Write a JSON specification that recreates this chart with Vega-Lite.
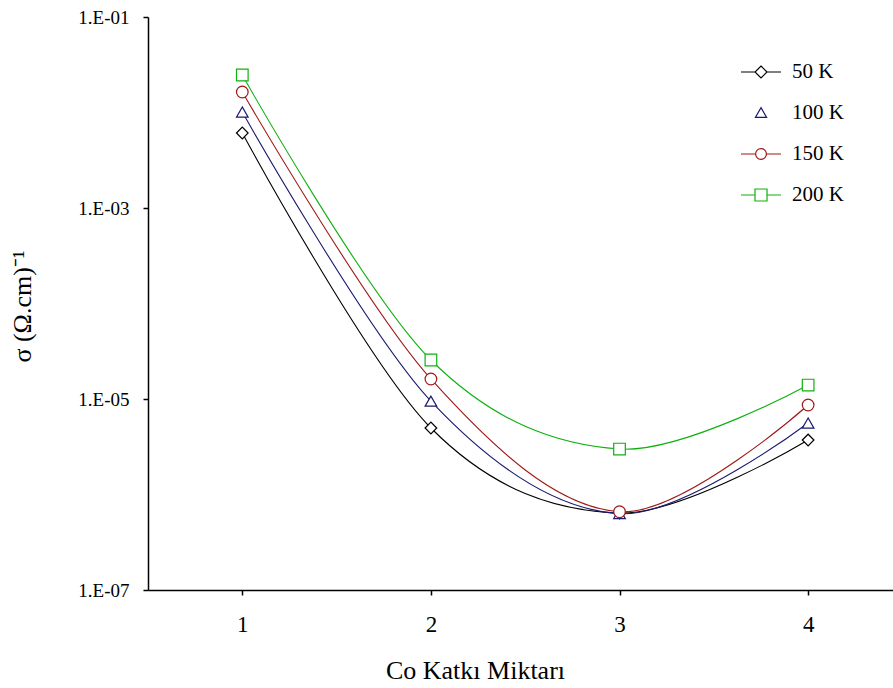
{
  "$schema": "https://vega.github.io/schema/vega-lite/v6.json",
  "autosize": {"type": "none"},
  "padding": {"left": 148, "top": 17, "right": 0, "bottom": 98},
  "width": 745,
  "height": 573,
  "background": "white",
  "config": {"view": {"stroke": null}, "font": "Liberation Serif"},
  "data": {"values": [
    {"x": 1, "s": "50 K", "v": 0.0061},
    {"x": 2, "s": "50 K", "v": 0.00000497},
    {"x": 3, "s": "50 K", "v": 0.00000064},
    {"x": 4, "s": "50 K", "v": 0.00000372},
    {"x": 1, "s": "100 K", "v": 0.0101},
    {"x": 2, "s": "100 K", "v": 0.0000095},
    {"x": 3, "s": "100 K", "v": 0.00000063},
    {"x": 4, "s": "100 K", "v": 0.0000056},
    {"x": 1, "s": "150 K", "v": 0.0164},
    {"x": 2, "s": "150 K", "v": 0.0000162},
    {"x": 3, "s": "150 K", "v": 0.00000066},
    {"x": 4, "s": "150 K", "v": 0.00000865},
    {"x": 1, "s": "200 K", "v": 0.0247},
    {"x": 2, "s": "200 K", "v": 0.0000256},
    {"x": 3, "s": "200 K", "v": 0.00000299},
    {"x": 4, "s": "200 K", "v": 0.000014}
  ]},
  "encoding": {
    "x": {"field": "x", "type": "quantitative",
      "scale": {"domain": [0.5, 4.45], "nice": false, "zero": false},
      "axis": {"values": [1, 2, 3, 4], "grid": false, "domainColor": "black", "domainWidth": 1.5, "tickColor": "black", "tickWidth": 1.5, "tickSize": 5,
        "labelFont": "Liberation Serif", "labelFontSize": 23, "labelColor": "black", "labelPadding": 18,
        "title": "Co Katkı Miktarı", "titleFont": "Liberation Serif", "titleFontSize": 26, "titleFontWeight": "normal", "titleColor": "black",
        "titleX": 327, "titleY": 80, "titleBaseline": "middle", "titleAlign": "center"}},
    "y": {"field": "v", "type": "quantitative",
      "scale": {"type": "log", "domain": [1e-7, 0.1], "nice": false},
      "axis": {"values": [1e-7, 1e-5, 1e-3, 1e-1], "grid": false, "domainColor": "black", "domainWidth": 1.5, "tickColor": "black", "tickWidth": 1.5, "tickSize": 5,
        "labelExpr": "'1.E-0' + round(-log(datum.value)/LN10)",
        "labelFont": "Liberation Serif", "labelFontSize": 19, "labelColor": "black", "labelPadding": 14,
        "title": "σ (Ω.cm)⁻¹", "titleFont": "Liberation Serif", "titleFontSize": 26, "titleFontWeight": "normal", "titleColor": "black",
        "titleX": -126, "titleY": 289, "titleAngle": -90, "titleBaseline": "middle", "titleAlign": "center"}}
  },
  "layer": [
    {
      "mark": {"type": "line", "interpolate": "cardinal", "strokeWidth": 1.1},
      "encoding": {
        "stroke": {"field": "s", "type": "nominal",
          "scale": {"domain": ["50 K", "100 K", "150 K", "200 K"], "range": ["#000000", "#1a1a6e", "#a01818", "#10b010"]},
          "legend": null}
      }
    },
    {
      "mark": {"type": "point", "fill": "white", "strokeWidth": 1.2, "opacity": 1, "size": 135},
      "encoding": {
        "stroke": {"field": "s", "type": "nominal",
          "scale": {"domain": ["50 K", "100 K", "150 K", "200 K"], "range": ["#000000", "#1a1a6e", "#a01818", "#10b010"]},
          "legend": null},
        "shape": {"field": "s", "type": "nominal",
          "scale": {"domain": ["50 K", "100 K", "150 K", "200 K"], "range": ["diamond", "triangle-up", "circle", "square"]},
          "legend": null}
      }
    },
    {
      "mark": {"type": "point", "opacity": 0, "strokeWidth": 1},
      "encoding": {
        "stroke": {"field": "s", "type": "nominal",
          "scale": {"domain": ["50 K", "100 K", "150 K", "200 K"], "range": ["#000000", "#1a1a6e", "#a01818", "#10b010"]}},
        "shape": {"field": "s", "type": "nominal",
          "scale": {"domain": ["50 K", "100 K", "150 K", "200 K"], "range": [
            "M-1,0H-0.3M0.3,0H1M0,-0.3L0.3,0L0,0.3L-0.3,0Z",
            "M0,-0.27L0.28,0.22L-0.28,0.22Z",
            "M-1,0H-0.27M0.27,0H1M0.27,0A0.27,0.27 0 1,1 -0.27,0A0.27,0.27 0 1,1 0.27,0Z",
            "M-1,0H-0.3M0.3,0H1M-0.3,-0.3H0.3V0.3H-0.3Z"]},
          "legend": {"title": null, "orient": "none", "legendX": 592, "legendY": 34, "padding": 0, "rowPadding": 10,
            "symbolSize": 1600, "symbolStrokeWidth": 1.2, "symbolOpacity": 1, "symbolFillColor": "white",
            "labelFont": "Liberation Serif", "labelFontSize": 21, "labelColor": "black", "labelOffset": 10}}
      }
    }
  ],
  "resolve": {"scale": {"stroke": "independent", "shape": "independent"}}
}
